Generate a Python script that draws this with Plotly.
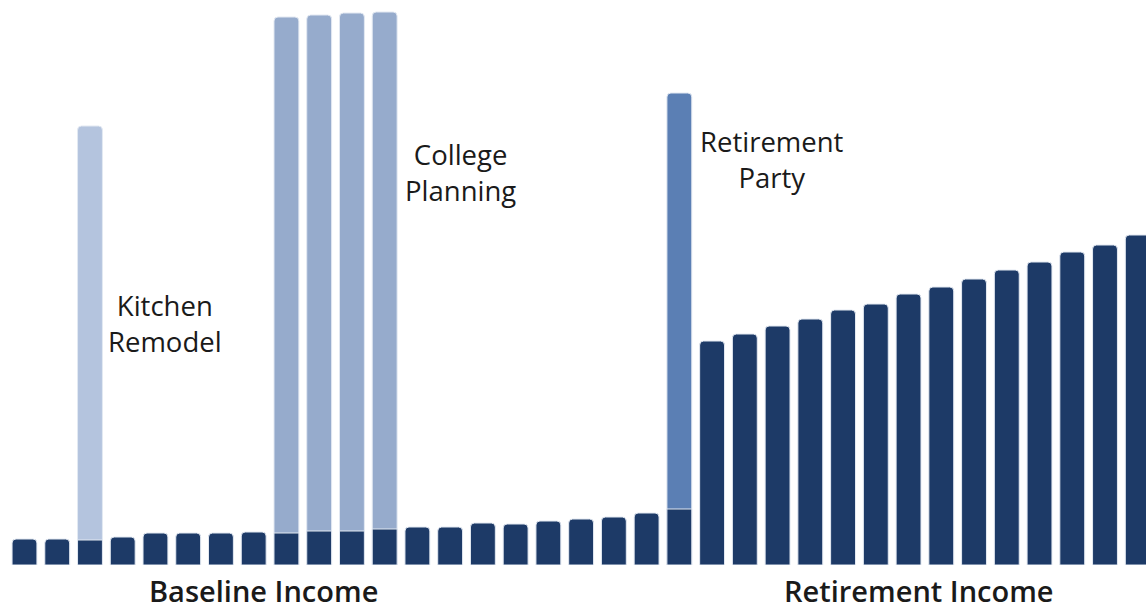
import plotly.graph_objects as go

# Year index for each bar
years = list(range(1, 36))

# Income per year (baseline years 1-21, retirement years 22-35), in $k
income = [26, 26, 25, 28, 32, 32, 32, 33, 32, 34, 34, 36, 38, 38, 42, 41, 44, 46, 48, 52, 56,
          224, 231, 239, 246, 255, 261, 271, 278, 286, 295, 303, 313, 320, 330]

# Goal spending stacked above income, in $k
kitchen_years = [3]
kitchen_amount = [414]
college_years = [9, 10, 11, 12]
college_amount = [516, 516, 518, 517]
party_years = [21]
party_amount = [416]

NAVY = "#1d3a67"
KITCHEN = "#b4c4de"
COLLEGE = "#96abcc"
PARTY = "#5b7fb4"
EDGE = "#e3e9f2"


def totals(yrs, amounts):
    return [income[y - 1] + a for y, a in zip(yrs, amounts)]


fig = go.Figure()
for yrs, amts, col, name in [
    (kitchen_years, kitchen_amount, KITCHEN, "Kitchen Remodel"),
    (college_years, college_amount, COLLEGE, "College Planning"),
    (party_years, party_amount, PARTY, "Retirement Party"),
]:
    fig.add_trace(go.Bar(x=yrs, y=totals(yrs, amts), name=name,
                         marker=dict(color=col, line=dict(color=EDGE, width=1)),
                         width=0.76))

fig.add_trace(go.Bar(x=years, y=income, name="Income",
                     marker=dict(color=NAVY, line=dict(color=EDGE, width=1)),
                     width=0.76))

label_font = dict(family="Open Sans, DejaVu Sans, sans-serif", size=27.5, color="#1a1a1a")
bottom_font = dict(family="Open Sans, DejaVu Sans, sans-serif", size=29, color="#1a1a1a", weight=600)

annotations = [
    dict(x=5.29, y=241.5, yref="y", text="Kitchen<br>Remodel", font=label_font),
    dict(x=14.33, y=392.5, yref="y", text="College<br>Planning", font=label_font),
    dict(x=23.83, y=406, yref="y", text="Retirement<br>Party", font=label_font),
    dict(x=8.29, y=-25 / 565, yref="paper", text="Baseline Income", font=bottom_font),
    dict(x=28.32, y=-25 / 565, yref="paper", text="Retirement Income", font=bottom_font),
]
for a in annotations:
    a.update(xref="x", showarrow=False, align="center", xanchor="center",
             yanchor="middle", borderpad=0)

fig.update_layout(
    width=1146, height=610,
    margin=dict(l=0, r=0, t=0, b=45),
    barmode="overlay",
    barcornerradius=4,
    plot_bgcolor="white", paper_bgcolor="white",
    showlegend=False,
    annotations=annotations,
    xaxis=dict(range=[0.252, 35.252], visible=False, showgrid=False, zeroline=False),
    yaxis=dict(range=[0, 565], visible=False, showgrid=False, zeroline=False),
)

fig.write_html("out.html")
